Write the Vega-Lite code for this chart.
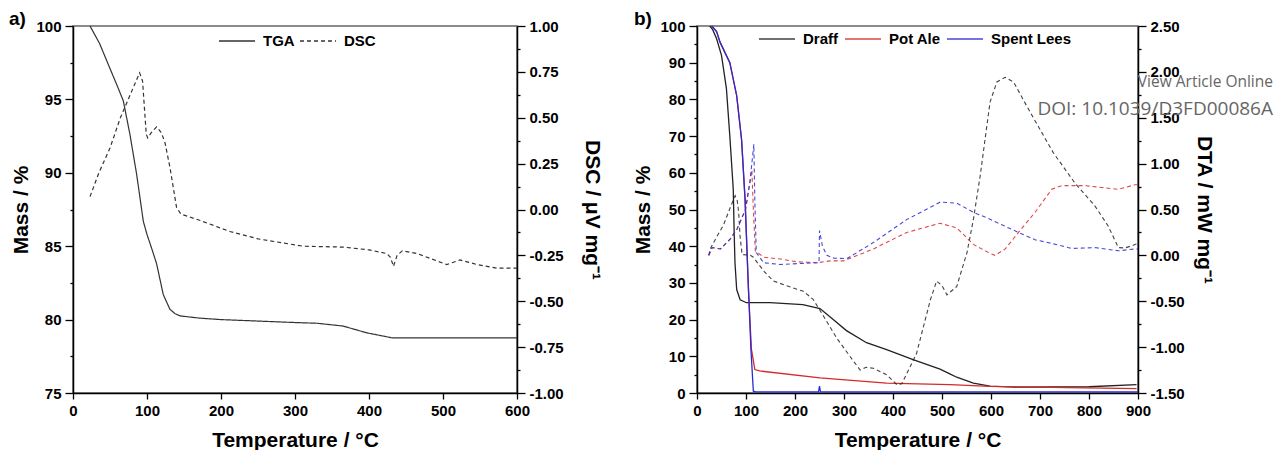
{
  "$schema": "https://vega.github.io/schema/vega-lite/v6.json",
  "padding": {"left": 8, "top": 9, "right": 0, "bottom": 0},
  "spacing": 29,
  "config": {
    "font": "Liberation Sans",
    "view": {"stroke": "#666", "strokeWidth": 1.5},
    "axis": {
      "labelFont": "Liberation Sans", "labelFontSize": 15, "labelFontWeight": "bold", "labelColor": "#000",
      "titleFont": "Liberation Sans", "titleFontSize": 21, "titleFontWeight": "bold", "titleColor": "#000",
      "domainColor": "#000", "domainWidth": 1.5, "tickColor": "#000", "tickWidth": 1.3,
      "grid": false, "labelPadding": 4, "labelOverlap": false, "labelFlush": false
    },
    "legend": {
      "labelFont": "Liberation Sans", "labelFontSize": 15, "labelFontWeight": "bold", "labelColor": "#000",
      "symbolType": "stroke", "symbolSize": 1300, "symbolStrokeWidth": 1.4, "labelOffset": 7
    },
    "title": {"font": "Liberation Sans", "fontSize": 19, "fontWeight": "bold", "color": "#000"}
  },
  "hconcat": [
    {
      "width": 444,
      "height": 367,
      "title": {"text": "a)", "anchor": "start", "frame": "bounds", "offset": -10, "dx": -2},
      "layer": [
        {
          "data": {"values": [
            {"T": 23, "mass": 100}, {"T": 36, "mass": 98.8}, {"T": 50, "mass": 97.1}, {"T": 60, "mass": 95.9},
            {"T": 68, "mass": 94.9}, {"T": 77, "mass": 92.6}, {"T": 86, "mass": 89.9}, {"T": 95, "mass": 86.7},
            {"T": 100, "mass": 85.8}, {"T": 106, "mass": 84.9}, {"T": 113, "mass": 83.8}, {"T": 122, "mass": 81.7},
            {"T": 131, "mass": 80.7}, {"T": 138, "mass": 80.4}, {"T": 145, "mass": 80.25}, {"T": 171, "mass": 80.1},
            {"T": 200, "mass": 80.0}, {"T": 250, "mass": 79.9}, {"T": 300, "mass": 79.8}, {"T": 330, "mass": 79.75},
            {"T": 365, "mass": 79.56}, {"T": 397, "mass": 79.1}, {"T": 432, "mass": 78.75}, {"T": 500, "mass": 78.75},
            {"T": 600, "mass": 78.75}
          ]},
          "mark": {"type": "line", "color": "#333", "strokeWidth": 1.2},
          "encoding": {
            "x": {
              "field": "T", "type": "quantitative",
              "scale": {"domain": [0, 600], "nice": false},
              "axis": {
                "title": "Temperature / °C", "titlePadding": 11,
                "values": [0, 50, 100, 150, 200, 250, 300, 350, 400, 450, 500, 550, 600],
                "labelExpr": "datum.value % 100 === 0 ? datum.label : ''",
                "tickSize": {"condition": {"test": "datum.value % 100 === 0", "value": 6}, "value": 3}
              }
            },
            "y": {
              "field": "mass", "type": "quantitative",
              "scale": {"domain": [75, 100], "nice": false, "zero": false},
              "axis": {
                "title": "Mass / %", "titlePadding": 4,
                "values": [75, 77.5, 80, 82.5, 85, 87.5, 90, 92.5, 95, 97.5, 100],
                "labelExpr": "datum.value % 5 === 0 ? datum.label : ''",
                "tickSize": {"condition": {"test": "datum.value % 5 === 0", "value": 8}, "value": 3}
              }
            },
            "strokeDash": {
              "datum": "TGA", "type": "nominal",
              "scale": {"domain": ["TGA", "DSC"], "range": [[1, 0], [4, 3]]},
              "legend": {
                "title": null, "orient": "none", "direction": "horizontal",
                "legendX": 145, "legendY": -4, "columnPadding": 2, "symbolStrokeColor": "#333"
              }
            }
          }
        },
        {
          "data": {"values": [
            {"T": 23, "dsc": 0.07}, {"T": 35, "dsc": 0.2}, {"T": 50, "dsc": 0.335}, {"T": 64, "dsc": 0.5},
            {"T": 81, "dsc": 0.66}, {"T": 90, "dsc": 0.745}, {"T": 94, "dsc": 0.7}, {"T": 99, "dsc": 0.41},
            {"T": 101, "dsc": 0.39}, {"T": 106, "dsc": 0.42}, {"T": 113, "dsc": 0.45}, {"T": 119, "dsc": 0.42},
            {"T": 124, "dsc": 0.37}, {"T": 131, "dsc": 0.23}, {"T": 140, "dsc": 0.01}, {"T": 146, "dsc": -0.025},
            {"T": 172, "dsc": -0.06}, {"T": 212, "dsc": -0.12}, {"T": 250, "dsc": -0.16}, {"T": 311, "dsc": -0.2},
            {"T": 365, "dsc": -0.205}, {"T": 400, "dsc": -0.22}, {"T": 424, "dsc": -0.24}, {"T": 429, "dsc": -0.26},
            {"T": 433, "dsc": -0.31}, {"T": 438, "dsc": -0.25}, {"T": 445, "dsc": -0.225}, {"T": 465, "dsc": -0.24},
            {"T": 505, "dsc": -0.3}, {"T": 523, "dsc": -0.275}, {"T": 546, "dsc": -0.3}, {"T": 573, "dsc": -0.32},
            {"T": 600, "dsc": -0.32}
          ]},
          "mark": {"type": "line", "color": "#333", "strokeWidth": 1.2},
          "encoding": {
            "x": {"field": "T", "type": "quantitative"},
            "y": {
              "field": "dsc", "type": "quantitative",
              "scale": {"domain": [-1, 1], "nice": false},
              "axis": {
                "orient": "right", "title": "DSC / μV mg⁻¹", "titlePadding": 18,
                "values": [-1, -0.875, -0.75, -0.625, -0.5, -0.375, -0.25, -0.125, 0, 0.125, 0.25, 0.375, 0.5, 0.625, 0.75, 0.875, 1],
                "labelExpr": "abs(round(datum.value*8)) % 2 === 0 ? replace(format(datum.value, '.2f'), '−', '-') : ''",
                "tickSize": {"condition": {"test": "abs(round(datum.value*8)) % 2 === 0", "value": 8}, "value": 3}
              }
            },
            "strokeDash": {"datum": "DSC", "type": "nominal"}
          }
        }
      ],
      "resolve": {"scale": {"y": "independent"}}
    },
    {
      "width": 441,
      "height": 367,
      "title": {"text": "b)", "anchor": "start", "frame": "bounds", "offset": -10, "dx": 1},
      "layer": [
        {
          "data": {"values": [
            {"sample": "Draff", "T": 26, "mass": 100}, {"sample": "Draff", "T": 32, "mass": 99}, {"sample": "Draff", "T": 40, "mass": 96.5},
            {"sample": "Draff", "T": 50, "mass": 92}, {"sample": "Draff", "T": 60, "mass": 83}, {"sample": "Draff", "T": 67, "mass": 70},
            {"sample": "Draff", "T": 74, "mass": 55.5}, {"sample": "Draff", "T": 76, "mass": 43}, {"sample": "Draff", "T": 77.5, "mass": 35.5},
            {"sample": "Draff", "T": 81, "mass": 28.2}, {"sample": "Draff", "T": 88, "mass": 25.4}, {"sample": "Draff", "T": 101, "mass": 24.6},
            {"sample": "Draff", "T": 149, "mass": 24.6}, {"sample": "Draff", "T": 216, "mass": 24.1}, {"sample": "Draff", "T": 251, "mass": 23},
            {"sample": "Draff", "T": 278, "mass": 20}, {"sample": "Draff", "T": 305, "mass": 17}, {"sample": "Draff", "T": 346, "mass": 13.7},
            {"sample": "Draff", "T": 387, "mass": 11.8}, {"sample": "Draff", "T": 441, "mass": 9.1}, {"sample": "Draff", "T": 496, "mass": 6.5},
            {"sample": "Draff", "T": 516, "mass": 5.2}, {"sample": "Draff", "T": 530, "mass": 4.3}, {"sample": "Draff", "T": 564, "mass": 2.7},
            {"sample": "Draff", "T": 598, "mass": 1.9}, {"sample": "Draff", "T": 650, "mass": 1.6}, {"sample": "Draff", "T": 800, "mass": 1.7},
            {"sample": "Draff", "T": 897, "mass": 2.3},
            {"sample": "Pot Ale", "T": 30, "mass": 100}, {"sample": "Pot Ale", "T": 40, "mass": 98.5}, {"sample": "Pot Ale", "T": 47, "mass": 95.6},
            {"sample": "Pot Ale", "T": 67, "mass": 90}, {"sample": "Pot Ale", "T": 81, "mass": 81}, {"sample": "Pot Ale", "T": 91, "mass": 69},
            {"sample": "Pot Ale", "T": 98, "mass": 53}, {"sample": "Pot Ale", "T": 105, "mass": 28}, {"sample": "Pot Ale", "T": 111, "mass": 12},
            {"sample": "Pot Ale", "T": 118, "mass": 6.4}, {"sample": "Pot Ale", "T": 128, "mass": 6}, {"sample": "Pot Ale", "T": 251, "mass": 4.1},
            {"sample": "Pot Ale", "T": 387, "mass": 2.7}, {"sample": "Pot Ale", "T": 516, "mass": 2.3}, {"sample": "Pot Ale", "T": 598, "mass": 1.8},
            {"sample": "Pot Ale", "T": 897, "mass": 1.2},
            {"sample": "Spent Lees", "T": 30, "mass": 100}, {"sample": "Spent Lees", "T": 40, "mass": 98.5}, {"sample": "Spent Lees", "T": 47, "mass": 95.6},
            {"sample": "Spent Lees", "T": 67, "mass": 90}, {"sample": "Spent Lees", "T": 81, "mass": 81}, {"sample": "Spent Lees", "T": 91, "mass": 69},
            {"sample": "Spent Lees", "T": 98, "mass": 53}, {"sample": "Spent Lees", "T": 104, "mass": 32}, {"sample": "Spent Lees", "T": 110, "mass": 12},
            {"sample": "Spent Lees", "T": 115, "mass": 0.5}, {"sample": "Spent Lees", "T": 120, "mass": 0.3}, {"sample": "Spent Lees", "T": 248, "mass": 0.3},
            {"sample": "Spent Lees", "T": 250, "mass": 1.9}, {"sample": "Spent Lees", "T": 252, "mass": 0.3}, {"sample": "Spent Lees", "T": 900, "mass": 0.3}
          ]},
          "mark": {"type": "line", "strokeWidth": 1.3},
          "encoding": {
            "x": {
              "field": "T", "type": "quantitative",
              "scale": {"domain": [0, 900], "nice": false},
              "axis": {
                "title": "Temperature / °C", "titlePadding": 11,
                "values": [0, 50, 100, 150, 200, 250, 300, 350, 400, 450, 500, 550, 600, 650, 700, 750, 800, 850, 900],
                "labelExpr": "datum.value % 100 === 0 ? datum.label : ''",
                "tickSize": {"condition": {"test": "datum.value % 100 === 0", "value": 6}, "value": 3}
              }
            },
            "y": {
              "field": "mass", "type": "quantitative",
              "scale": {"domain": [0, 100], "nice": false},
              "axis": {
                "title": "Mass / %", "titlePadding": 6,
                "values": [0, 5, 10, 15, 20, 25, 30, 35, 40, 45, 50, 55, 60, 65, 70, 75, 80, 85, 90, 95, 100],
                "labelExpr": "datum.value % 10 === 0 ? datum.label : ''",
                "tickSize": {"condition": {"test": "datum.value % 10 === 0", "value": 8}, "value": 3}
              }
            },
            "color": {
              "field": "sample", "type": "nominal",
              "scale": {"domain": ["Draff", "Pot Ale", "Spent Lees"], "range": ["#222222", "#d42a2a", "#2a2ad4"]},
              "legend": {
                "title": null, "orient": "none", "direction": "horizontal",
                "legendX": 685, "legendY": -6, "columnPadding": 3, "symbolDash": [1, 0]
              }
            }
          }
        },
        {
          "data": {"values": [
            {"sample": "Draff", "T": 24, "dta": 0.0}, {"sample": "Draff", "T": 27, "dta": 0.07}, {"sample": "Draff", "T": 40, "dta": 0.2},
            {"sample": "Draff", "T": 54, "dta": 0.33}, {"sample": "Draff", "T": 70, "dta": 0.55}, {"sample": "Draff", "T": 78, "dta": 0.65},
            {"sample": "Draff", "T": 82, "dta": 0.6}, {"sample": "Draff", "T": 85, "dta": 0.47}, {"sample": "Draff", "T": 88, "dta": 0.2},
            {"sample": "Draff", "T": 92, "dta": 0.01}, {"sample": "Draff", "T": 109, "dta": 0.0}, {"sample": "Draff", "T": 115, "dta": -0.02},
            {"sample": "Draff", "T": 136, "dta": -0.17}, {"sample": "Draff", "T": 156, "dta": -0.28}, {"sample": "Draff", "T": 183, "dta": -0.33},
            {"sample": "Draff", "T": 204, "dta": -0.37}, {"sample": "Draff", "T": 217, "dta": -0.39}, {"sample": "Draff", "T": 237, "dta": -0.48},
            {"sample": "Draff", "T": 258, "dta": -0.66}, {"sample": "Draff", "T": 285, "dta": -0.9}, {"sample": "Draff", "T": 312, "dta": -1.1},
            {"sample": "Draff", "T": 333, "dta": -1.25}, {"sample": "Draff", "T": 345, "dta": -1.22}, {"sample": "Draff", "T": 360, "dta": -1.23},
            {"sample": "Draff", "T": 387, "dta": -1.3}, {"sample": "Draff", "T": 408, "dta": -1.41}, {"sample": "Draff", "T": 418, "dta": -1.4},
            {"sample": "Draff", "T": 448, "dta": -1.07}, {"sample": "Draff", "T": 476, "dta": -0.49}, {"sample": "Draff", "T": 489, "dta": -0.28},
            {"sample": "Draff", "T": 500, "dta": -0.33}, {"sample": "Draff", "T": 510, "dta": -0.43}, {"sample": "Draff", "T": 530, "dta": -0.34},
            {"sample": "Draff", "T": 551, "dta": 0.03}, {"sample": "Draff", "T": 564, "dta": 0.39}, {"sample": "Draff", "T": 578, "dta": 0.87},
            {"sample": "Draff", "T": 598, "dta": 1.67}, {"sample": "Draff", "T": 612, "dta": 1.89}, {"sample": "Draff", "T": 629, "dta": 1.94},
            {"sample": "Draff", "T": 646, "dta": 1.89}, {"sample": "Draff", "T": 680, "dta": 1.56}, {"sample": "Draff", "T": 727, "dta": 1.12},
            {"sample": "Draff", "T": 771, "dta": 0.79}, {"sample": "Draff", "T": 812, "dta": 0.54}, {"sample": "Draff", "T": 839, "dta": 0.32},
            {"sample": "Draff", "T": 860, "dta": 0.085}, {"sample": "Draff", "T": 873, "dta": 0.08}, {"sample": "Draff", "T": 890, "dta": 0.11},
            {"sample": "Draff", "T": 900, "dta": 0.13},
            {"sample": "Pot Ale", "T": 24, "dta": 0.0}, {"sample": "Pot Ale", "T": 31, "dta": 0.085}, {"sample": "Pot Ale", "T": 48, "dta": 0.07},
            {"sample": "Pot Ale", "T": 68, "dta": 0.18}, {"sample": "Pot Ale", "T": 82, "dta": 0.29}, {"sample": "Pot Ale", "T": 99, "dta": 0.5},
            {"sample": "Pot Ale", "T": 105, "dta": 0.7}, {"sample": "Pot Ale", "T": 112, "dta": 0.93}, {"sample": "Pot Ale", "T": 115, "dta": 0.5},
            {"sample": "Pot Ale", "T": 119, "dta": 0.05}, {"sample": "Pot Ale", "T": 136, "dta": -0.02}, {"sample": "Pot Ale", "T": 170, "dta": -0.04},
            {"sample": "Pot Ale", "T": 204, "dta": -0.07}, {"sample": "Pot Ale", "T": 245, "dta": -0.08}, {"sample": "Pot Ale", "T": 272, "dta": -0.06},
            {"sample": "Pot Ale", "T": 299, "dta": -0.06}, {"sample": "Pot Ale", "T": 360, "dta": 0.07}, {"sample": "Pot Ale", "T": 428, "dta": 0.25},
            {"sample": "Pot Ale", "T": 496, "dta": 0.35}, {"sample": "Pot Ale", "T": 530, "dta": 0.3}, {"sample": "Pot Ale", "T": 564, "dta": 0.12},
            {"sample": "Pot Ale", "T": 595, "dta": 0.03}, {"sample": "Pot Ale", "T": 608, "dta": 0.0}, {"sample": "Pot Ale", "T": 629, "dta": 0.07},
            {"sample": "Pot Ale", "T": 656, "dta": 0.25}, {"sample": "Pot Ale", "T": 690, "dta": 0.47}, {"sample": "Pot Ale", "T": 724, "dta": 0.72},
            {"sample": "Pot Ale", "T": 744, "dta": 0.76}, {"sample": "Pot Ale", "T": 792, "dta": 0.76}, {"sample": "Pot Ale", "T": 826, "dta": 0.74},
            {"sample": "Pot Ale", "T": 860, "dta": 0.72}, {"sample": "Pot Ale", "T": 894, "dta": 0.77}, {"sample": "Pot Ale", "T": 900, "dta": 0.77},
            {"sample": "Spent Lees", "T": 24, "dta": 0.0}, {"sample": "Spent Lees", "T": 31, "dta": 0.085}, {"sample": "Spent Lees", "T": 48, "dta": 0.07},
            {"sample": "Spent Lees", "T": 68, "dta": 0.18}, {"sample": "Spent Lees", "T": 82, "dta": 0.29}, {"sample": "Spent Lees", "T": 99, "dta": 0.5},
            {"sample": "Spent Lees", "T": 108, "dta": 0.8}, {"sample": "Spent Lees", "T": 116, "dta": 1.21}, {"sample": "Spent Lees", "T": 118, "dta": 0.6},
            {"sample": "Spent Lees", "T": 121, "dta": 0.03}, {"sample": "Spent Lees", "T": 136, "dta": -0.08}, {"sample": "Spent Lees", "T": 170, "dta": -0.1},
            {"sample": "Spent Lees", "T": 204, "dta": -0.09}, {"sample": "Spent Lees", "T": 249, "dta": -0.08}, {"sample": "Spent Lees", "T": 250, "dta": 0.27},
            {"sample": "Spent Lees", "T": 256, "dta": 0.1}, {"sample": "Spent Lees", "T": 265, "dta": 0.0}, {"sample": "Spent Lees", "T": 280, "dta": -0.03},
            {"sample": "Spent Lees", "T": 306, "dta": -0.035}, {"sample": "Spent Lees", "T": 360, "dta": 0.14}, {"sample": "Spent Lees", "T": 428, "dta": 0.39},
            {"sample": "Spent Lees", "T": 496, "dta": 0.58}, {"sample": "Spent Lees", "T": 530, "dta": 0.57}, {"sample": "Spent Lees", "T": 564, "dta": 0.47},
            {"sample": "Spent Lees", "T": 591, "dta": 0.41}, {"sample": "Spent Lees", "T": 656, "dta": 0.25}, {"sample": "Spent Lees", "T": 690, "dta": 0.17},
            {"sample": "Spent Lees", "T": 724, "dta": 0.13}, {"sample": "Spent Lees", "T": 765, "dta": 0.075}, {"sample": "Spent Lees", "T": 812, "dta": 0.085},
            {"sample": "Spent Lees", "T": 860, "dta": 0.05}, {"sample": "Spent Lees", "T": 894, "dta": 0.07}, {"sample": "Spent Lees", "T": 900, "dta": 0.07}
          ]},
          "mark": {"type": "line", "strokeWidth": 1.1, "strokeDash": [4, 3], "opacity": 0.85},
          "encoding": {
            "x": {"field": "T", "type": "quantitative"},
            "y": {
              "field": "dta", "type": "quantitative",
              "scale": {"domain": [-1.5, 2.5], "nice": false},
              "axis": {
                "orient": "right", "title": "DTA / mW mg⁻¹", "titlePadding": 9,
                "values": [-1.5, -1.25, -1, -0.75, -0.5, -0.25, 0, 0.25, 0.5, 0.75, 1, 1.25, 1.5, 1.75, 2, 2.25, 2.5],
                "labelExpr": "abs(round(datum.value*4)) % 2 === 0 ? replace(format(datum.value, '.2f'), '−', '-') : ''",
                "tickSize": {"condition": {"test": "abs(round(datum.value*4)) % 2 === 0", "value": 8}, "value": 3}
              }
            },
            "color": {"field": "sample", "type": "nominal"}
          }
        },
        {
          "data": {"values": [{"label": "View Article Online", "T": 900, "pos": 84.7}]},
          "mark": {"type": "text", "align": "right", "baseline": "middle", "dx": 135, "font": "Open Sans", "fontSize": 15.5, "color": "#666"},
          "encoding": {
            "x": {"field": "T", "type": "quantitative"},
            "y": {"field": "pos", "type": "quantitative", "scale": {"domain": [0, 100], "nice": false}, "axis": null},
            "text": {"field": "label"}
          }
        },
        {
          "data": {"values": [{"label": "DOI: 10.1039/D3FD00086A", "T": 900, "pos": 77.3}]},
          "mark": {"type": "text", "align": "right", "baseline": "middle", "dx": 135, "font": "Open Sans", "fontSize": 19, "color": "#666"},
          "encoding": {
            "x": {"field": "T", "type": "quantitative"},
            "y": {"field": "pos", "type": "quantitative", "scale": {"domain": [0, 100], "nice": false}, "axis": null},
            "text": {"field": "label"}
          }
        }
      ],
      "resolve": {"scale": {"y": "independent"}}
    }
  ]
}
